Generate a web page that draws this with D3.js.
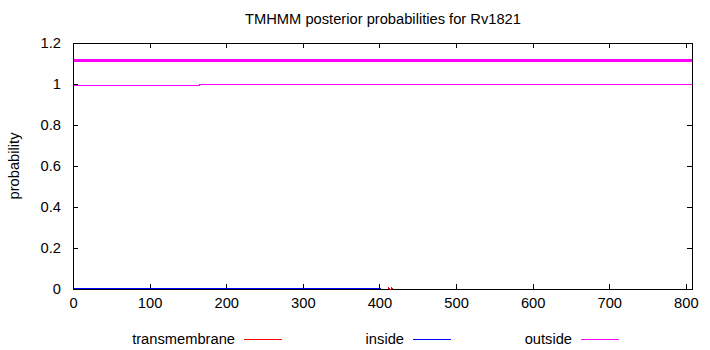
<!DOCTYPE html>
<html>
<head>
<meta charset="utf-8">
<script src="https://cdn.jsdelivr.net/npm/d3@7"></script>
<style>
  body { margin: 0; background: white; }
  text { font-family: "Liberation Sans", Arial, sans-serif; font-size: 14.7px; fill: black; }
  line, path { shape-rendering: crispEdges; }
</style>
</head>
<body>
<div id="chart"></div>
<script>
// sequence length and posterior probabilities
const seqLength = 808
const outsidePos = [1, 165, 166, 808]
const outsideProb = [0.995, 0.995, 1.0, 1.0]
const insidePos = [1, 402]
const insideProb = [0.002, 0.002]
const tmPos = [411, 412, 413, 415, 416, 417]
const tmProb = [0, 0.006, 0, 0, 0.006, 0]
// predicted topology bar (all outside)
const topoStart = [1]
const topoEnd = [808]
const topoLevel = 1.115

const xTicks = [0, 100, 200, 300, 400, 500, 600, 700, 800]
const yTicks = [0, 0.2, 0.4, 0.6, 0.8, 1, 1.2]
const legendNames = ["transmembrane", "inside", "outside"]
const legendColors = ["#ff0000", "#0000ff", "#ff00ff"]

const w = 710
const h = 350
const padLeft = 73, padRight = 692, padTop = 43, padBottom = 289

const svg = d3.select("#chart")
    .append("svg")
    .attr("width", w)
    .attr("height", h)

const x = d3.scaleLinear().domain([0, seqLength]).range([padLeft, padRight])
const y = d3.scaleLinear().domain([0, 1.2]).range([padBottom, padTop])

// title
svg.append("text")
    .attr("x", 383)
    .attr("y", 24)
    .attr("text-anchor", "middle")
    .text("TMHMM posterior probabilities for Rv1821")

svg.append("text")
    .attr("transform", `translate(19, ${(padTop + padBottom) / 2}) rotate(-90)`)
    .attr("text-anchor", "middle")
    .text("probability")

// axes with inward ticks, mirrored
const tickLen = 5
svg.append("g")
    .attr("transform", `translate(0, ${padBottom})`)
    .call(d3.axisBottom(x).tickValues(xTicks).tickSizeInner(-tickLen).tickSizeOuter(0).tickPadding(9))
svg.append("g")
    .attr("transform", `translate(0, ${padTop})`)
    .call(d3.axisTop(x).tickValues(xTicks).tickSizeInner(-tickLen).tickSizeOuter(0).tickFormat(""))
svg.append("g")
    .attr("transform", `translate(${padLeft}, 0)`)
    .call(d3.axisLeft(y).tickValues(yTicks).tickSizeInner(-tickLen).tickSizeOuter(0).tickPadding(12).tickFormat(d3.format("")))
svg.append("g")
    .attr("transform", `translate(${padRight}, 0)`)
    .call(d3.axisRight(y).tickValues(yTicks).tickSizeInner(-tickLen).tickSizeOuter(0).tickFormat(""))

svg.selectAll(".domain").attr("stroke", "black").attr("stroke-width", 1)
svg.selectAll(".tick line").attr("stroke", "black").attr("stroke-width", 1)
svg.selectAll(".tick text").style("font-family", "'Liberation Sans', Arial, sans-serif").style("font-size", "14.7px")

const line = d3.line().x(d => x(d[0])).y(d => y(d[1]))

svg.append("path")
    .datum(outsidePos.map((p, i) => [p, outsideProb[i]]))
    .attr("d", line)
    .attr("fill", "none")
    .attr("stroke", legendColors[2])
    .attr("stroke-width", 1)

svg.append("path")
    .datum(insidePos.map((p, i) => [p, insideProb[i]]))
    .attr("d", line)
    .attr("fill", "none")
    .attr("stroke", legendColors[1])
    .attr("stroke-width", 1.5)

svg.append("path")
    .datum(tmPos.map((p, i) => [p, tmProb[i]]))
    .attr("d", line)
    .attr("fill", "none")
    .attr("stroke", legendColors[0])
    .attr("stroke-width", 1)

svg.selectAll(".topo")
    .data(topoStart)
    .enter()
    .append("line")
    .attr("class", "topo")
    .attr("x1", d => x(d))
    .attr("x2", (d, i) => x(topoEnd[i]))
    .attr("y1", y(topoLevel))
    .attr("y2", y(topoLevel))
    .attr("stroke", legendColors[2])
    .attr("stroke-width", 3)

// legend
const legendText = [235, 404, 572]
const legend = svg.selectAll(".legend")
    .data(legendNames)
    .enter()
    .append("g")
    .attr("class", "legend")
legend.append("text")
    .attr("x", (d, i) => legendText[i])
    .attr("y", 344)
    .attr("text-anchor", "end")
    .text(d => d)
legend.append("line")
    .attr("x1", (d, i) => legendText[i] + 9)
    .attr("x2", (d, i) => legendText[i] + 47)
    .attr("y1", 339)
    .attr("y2", 339)
    .attr("stroke", (d, i) => legendColors[i])
    .attr("stroke-width", 1)
</script>
</body>
</html>
